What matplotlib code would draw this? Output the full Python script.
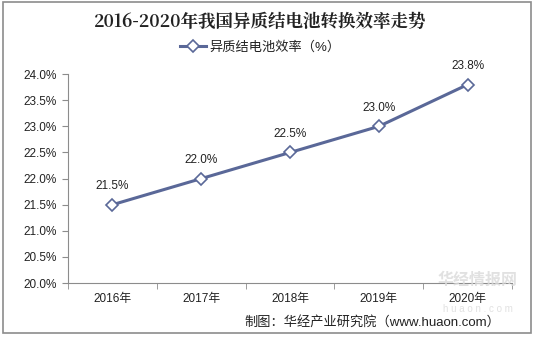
import matplotlib.pyplot as plt
from matplotlib.patches import Rectangle
from matplotlib.ticker import FuncFormatter

# --- Data ---
years = ["2016年", "2017年", "2018年", "2019年", "2020年"]
efficiency = [21.5, 22.0, 22.5, 23.0, 23.8]
value_labels = ["21.5%", "22.0%", "22.5%", "23.0%", "23.8%"]
y_ticks = [20.0, 20.5, 21.0, 21.5, 22.0, 22.5, 23.0, 23.5, 24.0]

title = "2016-2020年我国异质结电池转换效率走势"
legend_label = "异质结电池效率（%）"
source = "制图：华经产业研究院（www.huaon.com）"

plt.rcParams['font.family'] = ['Liberation Sans', 'Noto Sans CJK SC', 'DejaVu Sans']
line_color = "#5a6898"
axis_color = "#8c8c8c"

fig = plt.figure(figsize=(5.34, 3.37), dpi=100)
ax = fig.add_axes([0.1273, 0.160, 0.8315, 0.620])

x = list(range(len(years)))
ax.plot(x, efficiency, color=line_color, linewidth=2.2, marker="D", markersize=6,
        markerfacecolor="white", markeredgecolor=line_color, markeredgewidth=1.2,
        label=legend_label)

for xi, yi, lab in zip(x, efficiency, value_labels):
    ax.annotate(lab, (xi, yi), xytext=(0, 9), textcoords="offset points",
                ha="center", va="bottom", fontsize=8.5, color="#222222")

ax.set_xlim(-0.5, len(years) - 0.5)
ax.set_ylim(20.0, 24.0)
ax.set_yticks(y_ticks)
ax.yaxis.set_major_formatter(FuncFormatter(lambda v, p: f"{v:.1f}%"))
ax.set_xticks(x)
ax.set_xticklabels(years)
ax.set_xticks([i + 0.5 for i in range(-1, len(years))], minor=True)
ax.tick_params(axis="x", which="major", length=0, pad=7, labelsize=8.5, colors="#222222")
ax.tick_params(axis="x", which="minor", length=4, color=axis_color)
ax.tick_params(axis="y", length=4, color=axis_color, labelsize=8.5, labelcolor="#222222", pad=4)

for side in ["top", "right"]:
    ax.spines[side].set_visible(False)
ax.spines["left"].set_color(axis_color)
ax.spines["bottom"].set_color(axis_color)

fig.text(0.487, 0.935, title, ha="center", va="center", fontsize=12.6, fontweight="bold",
         family=['Noto Serif CJK SC', 'Noto Sans CJK SC', 'DejaVu Sans'], color="#222222")

leg = fig.legend(loc="center", bbox_to_anchor=(0.487, 0.86), frameon=False, fontsize=9.5,
                 handlelength=2.0, handletextpad=0.2, borderpad=0)
for t in leg.get_texts():
    t.set_color("#222222")

# faint watermark, kept clear of the tick labels
fig.text(0.895, 0.168, "华经情报网", ha="center", va="center", fontsize=11.5, fontweight="bold",
         color="#dadada", alpha=0.8)
fig.text(0.895, 0.082, "h u a o n . c o m", ha="center", va="center", fontsize=7,
         color="#dadada", alpha=0.8)

fig.text(0.937, 0.045, source, ha="right", va="center", fontsize=9.5, color="#222222")

fig.add_artist(Rectangle((0.006, 0.012), 0.988, 0.982, transform=fig.transFigure,
                         fill=False, edgecolor="#8c8c8c", linewidth=1.2))

fig.savefig("out.png", dpi=100)
